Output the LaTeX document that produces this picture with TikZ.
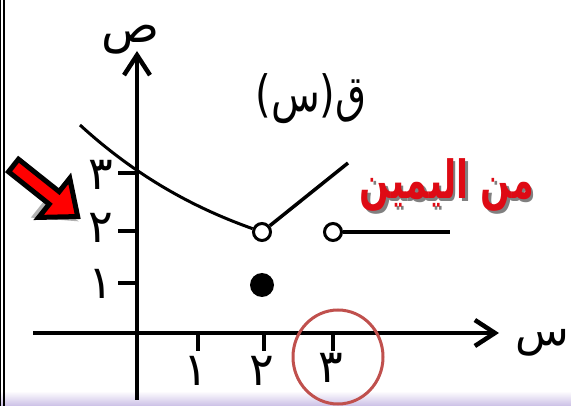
\documentclass[tikz,border=0pt]{standalone}
\usepackage{fontspec}
\newfontfamily\arabicfont[Script=Arabic]{DejaVu Sans}
\TeXXeTstate=1
\usetikzlibrary{arrows.meta,positioning}
\definecolor{Ring}{HTML}{C0504D}
\definecolor{Lilac}{HTML}{CBBFE6}
\definecolor{Signal}{HTML}{DE0A14}

\begin{document}
\begin{tikzpicture}[x=1pt,y=-1pt,
  axis/.style={line width=4.5pt,-{Straight Barb[length=20pt,width=26pt]}},
  tick/.style={line width=4pt},
  graph/.style={line width=3.5pt},
  hole/.style={circle,draw,line width=3pt,fill=white,minimum size=17pt,inner sep=0pt},
  full/.style={circle,fill=black,minimum size=24pt,inner sep=0pt},
  lbl/.style={font=\arabicfont\fontsize{48}{54}\selectfont,inner sep=0pt,text height=28pt,text depth=11pt},
  digit/.style={font=\arabicfont\fontsize{46}{52}\selectfont,inner sep=0pt},
  notefont/.style={font=\arabicfont\bfseries\fontsize{35}{40}\selectfont,inner sep=0pt}]
  \useasboundingbox (0,0) rectangle (571,406);
  \fill[white] (0,0) rectangle (571,406);
  \shade[top color=white,bottom color=Lilac] (0,391) rectangle (571,406);
  \fill[black] (0,0) rectangle (1.4,406);
  \fill[black] (2.8,0) rectangle (4.6,406);
  % axes
  \coordinate (o) at (137,333);
  \coordinate (ybot) at (137,400);
  \coordinate (ytop) at (137,51);
  \coordinate (xleft) at (33,333);
  \coordinate (xright) at (499,333);
  \draw[axis] (ybot) -- (ytop);
  \draw[axis] (xleft) -- (xright);
  \node[lbl] (ylab) at (131,34) {ص};
  \node[lbl,font=\arabicfont\fontsize{44}{50}\selectfont,anchor=east] (xlab) at (569,337) {س};
  % ticks
  \foreach \n/\x/\d/\ly in {1/198/١/371,2/264/٢/371,3/333/٣/368}{
    \coordinate (xt\n) at (\x,351);
    \draw[tick] (\x,333) -- (xt\n);
    \node[digit] (xn\n) at (\x-2,\ly) {\d};
  }
  \foreach \n/\y/\d/\ly in {1/283/١/284,2/231/٢/228,3/173/٣/175}{
    \coordinate (yt\n) at (118,\y);
    \draw[tick] (137,\y) -- (yt\n);
    \node[digit] (yn\n) at (101,\ly) {\d};
  }
  % function
  \node[font=\arabicfont\fontsize{40}{46}\selectfont,inner sep=0pt] (fname) at (311,99) {\scalebox{1}[1.25]{\beginR ق(س)\endR}};
  \node[hole] (o1) at (262,232) {};
  \node[hole] (o2) at (333,232) {};
  \node[full] (p1) at (262,285) {};
  \coordinate (cstart) at (80,125);
  \coordinate (rayend) at (348,163);
  \coordinate (flatend) at (450,232);
  \draw[graph,line width=3pt] (cstart) .. controls (140,180) and (200,210) .. (o1);
  \draw[graph] (o1) -- (rayend);
  \draw[graph] (o2) -- (flatend);
  % note
  \node[notefont,text=black!50] (shade) at (449.5,187.5) {\scalebox{1}[1.5]{\beginR من اليمين\endR}};
  \node[notefont,text=Signal] (note) at (447,185) {\scalebox{1}[1.5]{\beginR من اليمين\endR}};
  \draw[Ring,line width=3pt] (338,357) ellipse [x radius=45,y radius=47];
  % pointer
  \begin{scope}[shift={(13.5,165.5)},rotate=-38.5]
    \fill[black,opacity=0.3] (2,10) -- (46,10) -- (46,30) -- (86,3) -- cycle;
    \draw[line width=5pt,line join=miter,fill=red] (0,-8) -- (52,-8) -- (52,-25) -- (82,0) -- (52,25) -- (52,8) -- (0,8) -- cycle;
  \end{scope}
\end{tikzpicture}
\end{document}
